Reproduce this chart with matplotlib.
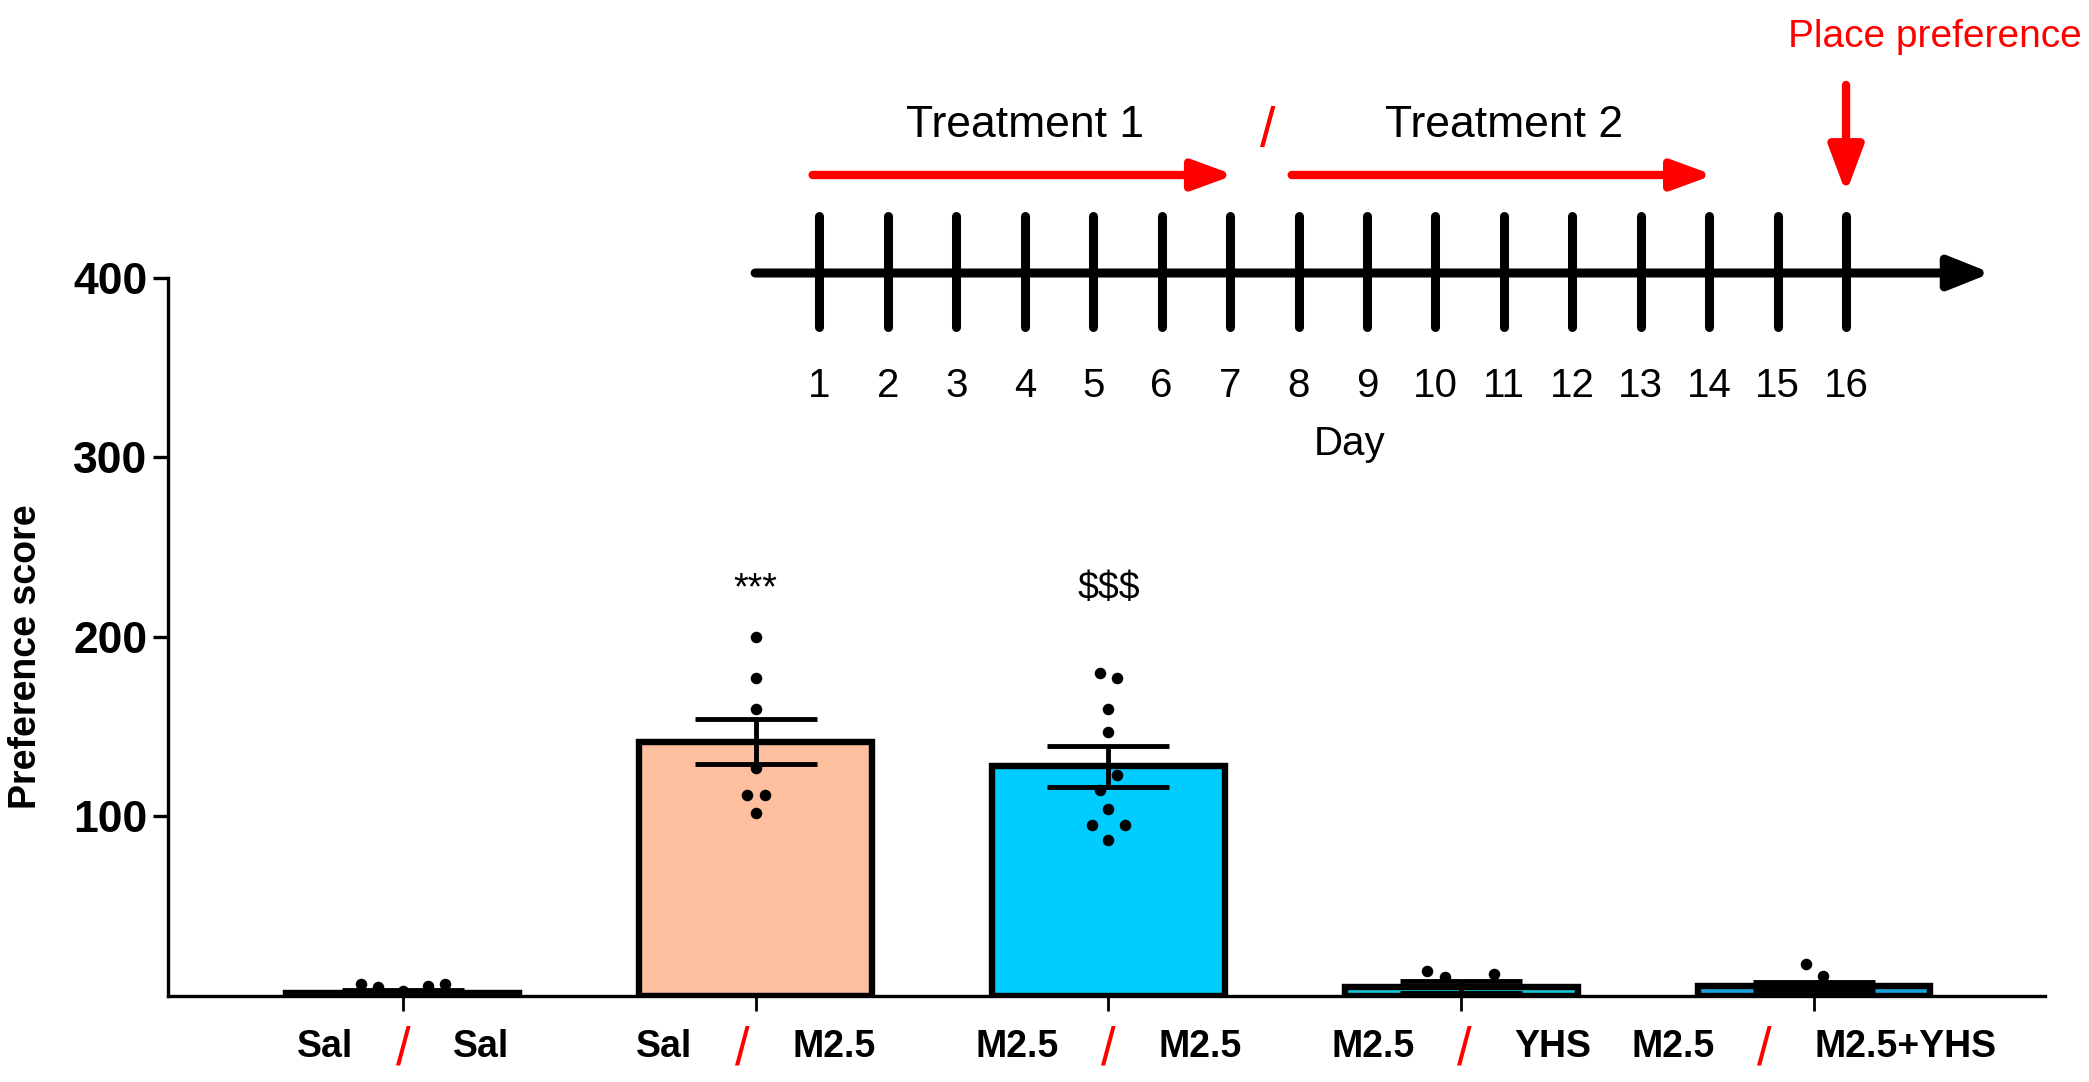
import numpy as np
import matplotlib.pyplot as plt

plt.rcParams['font.family'] = ['Liberation Sans', 'DejaVu Sans']

# groups : treatment 1 / treatment 2
treat1 = ['Sal', 'Sal', 'M2.5', 'M2.5', 'M2.5']
treat2 = ['Sal', 'M2.5', 'M2.5', 'YHS', 'M2.5+YHS']
means = [1.5, 141.7, 128.0, 5.0, 5.7]
sems = [1.8, 12.5, 11.3, 3.5, 2.1]
colors = ['white', '#FDBF9E', '#00CCFF', '#19C8D6', '#19A6DE']

# single animals (value, horizontal jitter)
pts_y = [[6.5, 5.0, 2.5, 5.5, 6.5],
         [200, 177, 160, 127, 112, 112, 102],
         [180, 177, 160, 147, 123, 115, 104, 95, 95, 87],
         [14, 10.5, 12],
         [17.8, 11.3]]
pts_dx = [[-0.12, -0.07, 0.0, 0.07, 0.12],
          [0, 0, 0, 0, -0.025, 0.025, 0],
          [-0.025, 0.025, 0, 0, 0.025, -0.025, 0, -0.047, 0.047, 0],
          [-0.097, -0.047, 0.093],
          [-0.023, 0.025]]
signif = ['', '***', '$$$', '', '']
sig_y = 221

# protocol timeline
days = np.arange(1, 17)
treat_start = [1, 8]
treat_end = [7, 14]
treat_names = ['Treatment 1', 'Treatment 2']
test_day = 16

fig = plt.figure(figsize=(20.89, 10.82), dpi=100)
ax = fig.add_axes([0.0804, 0.0795, 0.8986, 0.6636])

x = np.arange(len(means))
ax.bar(x, means, width=0.66, color=colors, edgecolor='black', linewidth=4.6, zorder=2)
ax.errorbar(x, means, yerr=sems, fmt='none', ecolor='black', elinewidth=3.5,
            capsize=43.7, capthick=3.5, zorder=3)
for i in range(len(x)):
    ax.scatter(i + np.array(pts_dx[i]), pts_y[i], s=69, color='black', linewidths=0, zorder=4)
    if signif[i]:
        ax.text(i, sig_y, signif[i], ha='center', va='baseline', fontsize=27)

ax.set_xlim(-0.666, 4.655)
ax.set_ylim(0, 400)
ax.set_yticks([100, 200, 300, 400])
ax.set_xticks(x)
ax.set_xticklabels([])
ax.tick_params(axis='y', length=10.8, width=2.4, labelsize=32, pad=4)
ax.tick_params(axis='x', length=10.8, width=2)
for lbl in ax.get_yticklabels():
    lbl.set_fontweight('bold')
for s in ['top', 'right']:
    ax.spines[s].set_visible(False)
for s in ['left', 'bottom']:
    ax.spines[s].set_linewidth(2.4)
fig.text(26 / 2089, 1 - 657 / 1082, 'Preference score', rotation=90, ha='center',
         va='center', fontsize=27, fontweight='bold')

# x labels : "left / right" centred on the tick, red slash
fig.canvas.draw()
r = fig.canvas.get_renderer()
for i in x:
    left = ax.annotate(treat1[i], xy=(i, 0), xycoords=('data', 'axes fraction'),
                       xytext=(0, -44), textcoords='offset points', ha='right',
                       va='baseline', fontsize=27, fontweight='bold')
    right = ax.annotate(treat2[i], xy=(i, 0), xycoords=('data', 'axes fraction'),
                        xytext=(0, -44), textcoords='offset points', ha='left',
                        va='baseline', fontsize=27, fontweight='bold')
    wl = left.get_window_extent(r).width * 72 / fig.dpi
    wr = right.get_window_extent(r).width * 72 / fig.dpi
    mid = (wl - wr) / 2
    left.xyann = (mid - 36, -44)
    right.xyann = (mid + 36, -44)
    ax.annotate('/', xy=(i, 0), xycoords=('data', 'axes fraction'), xytext=(mid, -49),
                textcoords='offset points', ha='center', va='baseline', fontsize=38, color='red')

# timeline on top
tl = fig.add_axes([751 / 2089, 0, 19.5 * 68.44 / 2089, 1])
tl.set_xlim(0, 19.5)
tl.set_ylim(1082, 0)
tl.axis('off')

tl.annotate('', xy=(18.12, 273), xytext=(0.06, 273),
            arrowprops=dict(arrowstyle='-|>,head_length=2.5,head_width=1.0', mutation_scale=10,
                            lw=6.5, color='black', shrinkA=0, shrinkB=0, capstyle='round'))
tl.vlines(days, 216, 327, color='black', lw=6.5, capstyle='round')
for d in days:
    tl.text(d, 397, str(d), ha='center', va='baseline', fontsize=29)
tl.text(8.74, 455, 'Day', ha='center', va='baseline', fontsize=29)

for s, e, name in zip(treat_start, treat_end, treat_names):
    tl.annotate('', xy=(e + 0.06, 175), xytext=(s - 0.1, 175),
                arrowprops=dict(arrowstyle='-|>,head_length=2.45,head_width=0.9', mutation_scale=10,
                                lw=6, color='red', shrinkA=0, shrinkB=0, capstyle='round'))
    tl.text((s + e) / 2, 137, name, ha='center', va='baseline', fontsize=32)
tl.text((treat_end[0] + treat_start[1]) / 2 + 0.05, 146, '/', ha='center', va='baseline',
        fontsize=40, color='red')

tl.annotate('', xy=(test_day, 193), xytext=(test_day, 85),
            arrowprops=dict(arrowstyle='-|>,head_length=2.8,head_width=1.05', mutation_scale=10,
                            lw=6, color='red', shrinkA=0, shrinkB=0, capstyle='round'))
tl.text(17.3, 47, 'Place preference', ha='center', va='baseline', fontsize=28, color='red')

fig.savefig('out.png', dpi=100)
